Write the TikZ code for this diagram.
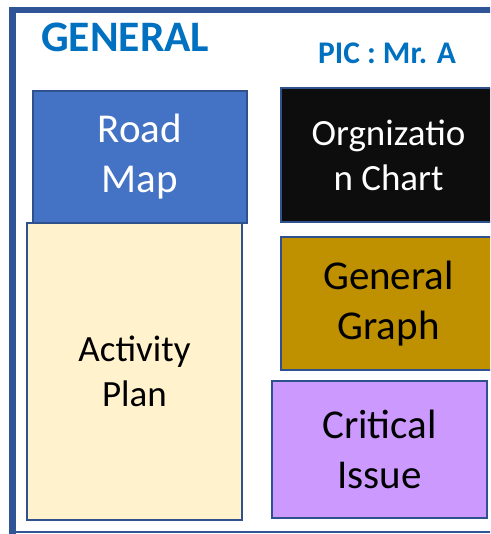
\documentclass[tikz,border=0pt]{standalone}
\usepackage{fontspec}
\setmainfont{Carlito}
\definecolor{framec}{HTML}{2F5597}
\definecolor{edgec}{HTML}{2F528F}
\definecolor{titlec}{HTML}{0070C0}
\definecolor{roadc}{HTML}{4472C4}
\definecolor{orgc}{HTML}{0D0D0D}
\definecolor{graphc}{HTML}{BF9000}
\definecolor{critc}{HTML}{CC99FF}
\definecolor{actc}{HTML}{FFF2CC}
\tikzset{
  panel/.style={draw=edgec, line width=1.8pt, rectangle, inner sep=0pt, align=center},
  bigtext/.style={font=\fontsize{41}{50}\selectfont},
  midtext/.style={font=\fontsize{37}{45}\selectfont},
}
\begin{document}
\begin{tikzpicture}[x=1pt,y=-1pt]
\useasboundingbox (0,0) rectangle (490,534);
\clip (0,0) rectangle (490,534);
\fill[white] (0,0) rectangle (490,534);
% frame
\draw[framec, line width=6pt] (12.5,10) -- (500,10);
\draw[framec, line width=7pt] (12.5,7) -- (12.5,534);
\draw[framec, line width=2.5pt] (9,532) -- (500,532);
% titles
\node[anchor=base west, inner sep=0pt, text=titlec, font=\fontsize{43.5}{50}\selectfont\bfseries] (title) at (41,52) {GENERAL};
\node[anchor=base west, inner sep=0pt, text=titlec, font=\fontsize{31.5}{36}\selectfont\bfseries] (pic) at (318,64) {PIC : Mr. A};
% boxes
\node[panel, fill=roadc, text=white, bigtext, minimum width=214pt, minimum height=132pt] (road) at (140,157) {Road\\Map};
\node[panel, fill=actc, text=black, midtext, minimum width=215pt, minimum height=297pt] (act) at (134.5,371.5) {Activity\\Plan};
\node[panel, fill=orgc, text=white, midtext, minimum width=215pt, minimum height=134pt] (org) at (388.5,155) {Orgnizatio\\n Chart};
\node[panel, fill=graphc, text=black, bigtext, minimum width=215pt, minimum height=133pt] (graph) at (388.5,303.5) {General\\Graph};
\node[panel, fill=critc, text=black, bigtext, minimum width=215pt, minimum height=137pt] (crit) at (379.5,449.5) {Critical\\Issue};
\end{tikzpicture}
\end{document}
